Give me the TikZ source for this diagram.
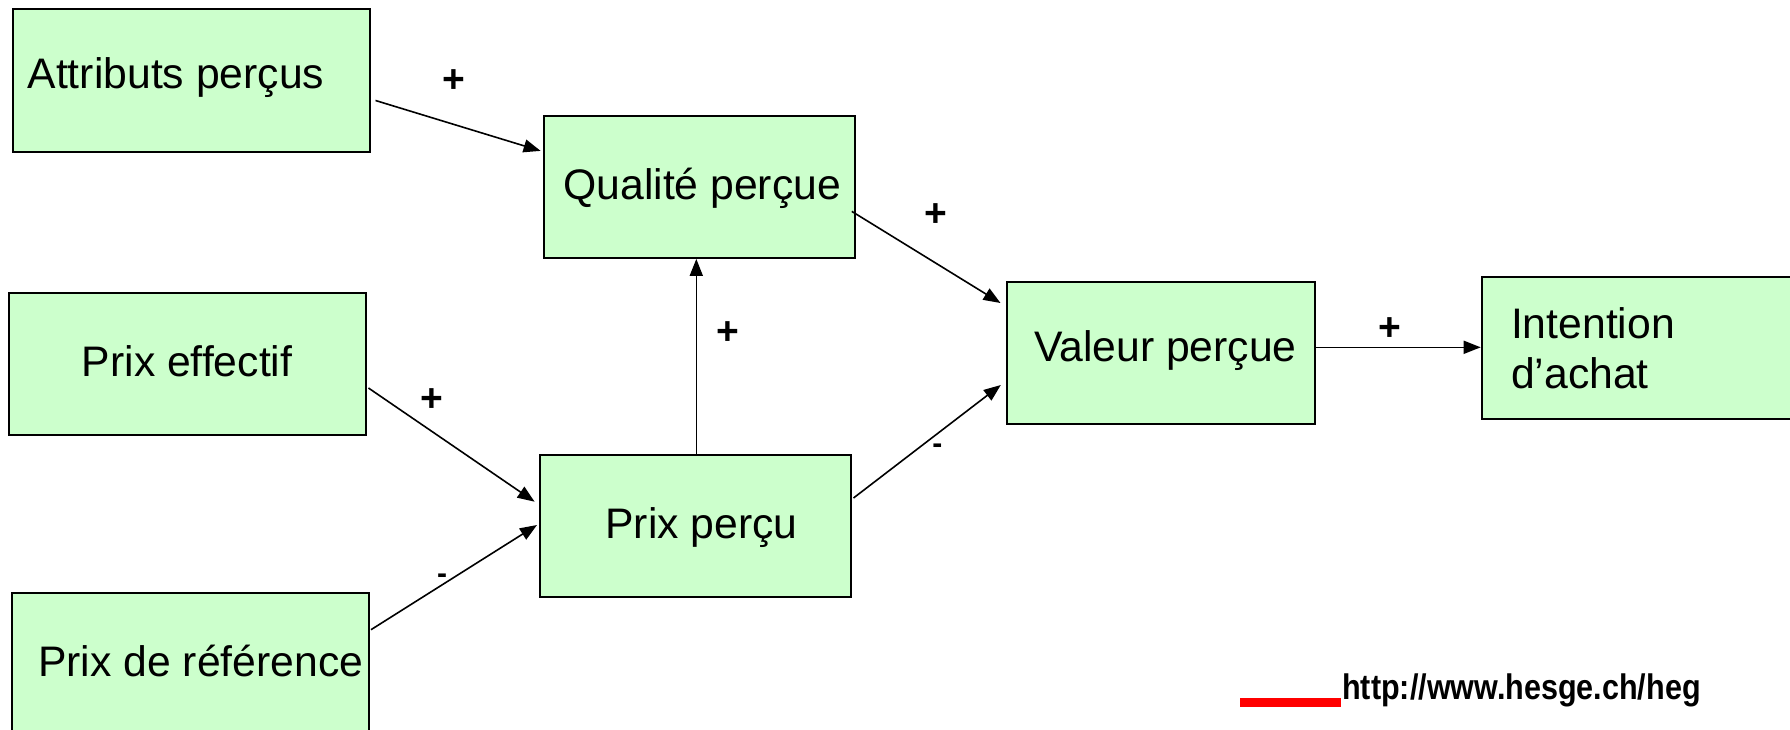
\documentclass[tikz,border=0pt]{standalone}
\usepackage{fontspec}
\setmainfont{Liberation Sans}
\usetikzlibrary{arrows.meta}
\definecolor{boxgreen}{HTML}{CCFFCC}
% fixed-width line of text with a left indent inside a box
\newcommand\lefttext[3]{\makebox[#1][l]{\hspace*{#2}#3}}

\begin{document}
\begin{tikzpicture}[x=1pt,y=-1pt,
  box/.style={draw=black, line width=2pt, fill=boxgreen, inner sep=0pt,
              minimum height=142pt, font=\fontsize{42.7}{50}\selectfont},
  oneline/.style={text height=30pt, text depth=#1},
  arr/.style={line width=1.6pt, -{Triangle[length=17pt,width=13pt]}},
  plus/.style={font=\fontsize{39}{39}\selectfont\bfseries, inner sep=0pt},
  minus/.style={font=\fontsize{30}{30}\selectfont\bfseries, inner sep=0pt}]
\useasboundingbox (0,0) rectangle (1790,730);

% boxes
\node[box, oneline=14.4pt, minimum height=143pt] (attr) at (191.3,80.5)
  {\lefttext{357.4pt}{15pt}{Attributs perçus}};
\node[box, oneline=5.2pt] (qual) at (699.2,186.9)
  {\lefttext{311.2pt}{19.8pt}{Qualité perçue}};
\node[box, oneline=5pt] (eff) at (187.2,363.5)
  {\lefttext{357.1pt}{73.2pt}{Prix effectif}};
\node[box, oneline=6pt] (pp) at (695.5,526)
  {\lefttext{311pt}{65.3pt}{Prix perçu}};
\node[box, oneline=6.4pt, minimum height=143pt] (ref) at (190.4,664.2)
  {\lefttext{357.8pt}{26.6pt}{Prix de référence}};
\node[box, oneline=14pt] (val) at (1161,353)
  {\lefttext{308pt}{27pt}{Valeur perçue}};
\node[box, inner xsep=29.4pt, text width=271.2pt, align=left] (int) at (1646.7,348.3)
  {Intention\\d’achat};

% connectors
\draw[arr] ([xshift=4.5pt,yshift=-20pt]attr.east) -- ([xshift=-2pt,yshift=36pt]qual.west);
\draw[arr] ([xshift=-4pt,yshift=-24.5pt]qual.east) -- ([xshift=-5.5pt,yshift=50pt]val.west);
\draw[arr] ([xshift=0.8pt]pp.north) -- ([xshift=-2.9pt]qual.south);
\draw[arr] ([xshift=1.7pt,yshift=-24.5pt]eff.east) -- ([xshift=-4.4pt,yshift=24.3pt]pp.west);
\draw[arr] ([xshift=0.7pt,yshift=-38pt]ref.north east) -- ([xshift=-2pt,yshift=1pt]pp.west);
\draw[arr] ([xshift=1.5pt,yshift=28pt]pp.east) -- ([xshift=-5.2pt,yshift=-32pt]val.west);
\draw[arr] ([yshift=5.7pt]val.east) -- ([yshift=1pt]int.west);

% signs
\node[plus] (s1) at (454,81) {+};
\node[plus] (s2) at (936,215) {+};
\node[plus] (s3) at (728,333) {+};
\node[plus] (s4) at (432,400) {+};
\node[minus] (s5) at (442,579) {-};
\node[minus] (s6) at (937.4,448.6) {-};
\node[plus] (s7) at (1390,329) {+};

% footer
\fill[red] (1240,698) rectangle (1341,706.5);
\node[anchor=base west, inner sep=0pt, font=\fontsize{35.5}{36}\selectfont\bfseries] (url)
  at (1342,699.3) {\scalebox{0.86}[1]{http://www.hesge.ch/heg}};
\end{tikzpicture}
\end{document}
